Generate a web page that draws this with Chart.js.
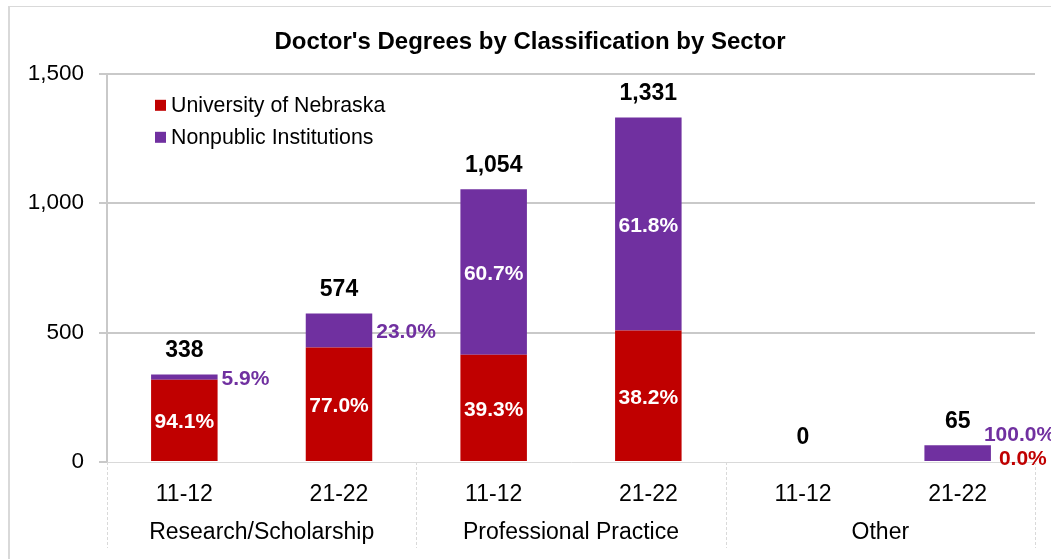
<!DOCTYPE html>
<html><head><meta charset="utf-8">
<script src="https://cdn.jsdelivr.net/npm/chart.js@4/dist/chart.umd.min.js"></script>
<style>html,body{margin:0;padding:0;background:#fff}#wrap{position:relative;width:1051px;height:559px}</style>
</head><body><div id="wrap"><canvas id="c" width="1051" height="559"></canvas></div>
<script>
// ---- data ----
const periods = ['11-12','21-22','11-12','21-22','11-12','21-22'];
const groups = ['Research/Scholarship','Professional Practice','Other'];
const groupSize = [2,2,2];
const unl = [318,442,414,508,0,0];
const nonpublic = [20,132,640,823,0,65];
const yTicks = [0,500,1000,1500];
const seriesNames = ['University of Nebraska','Nonpublic Institutions'];
const seriesColors = ['#C00000','#7030A0'];
const chartTitle = "Doctor's Degrees by Classification by Sector";

// ---- styling / plugins ----
const FONT = '"Liberation Sans", Arial, sans-serif';
const totals = unl.map((v,i)=>v+nonpublic[i]);
// small text nudges for overlapping outside labels [dx, dy] per dataset
const outsideNudge = {5: [[4,-5],[-11,-20]]};

const framePlugin = {
  id:'frame',
  beforeDraw(chart){
    const ctx=chart.ctx; ctx.save();
    ctx.fillStyle='#fff'; ctx.fillRect(0,0,chart.width,chart.height);
    ctx.fillStyle='#d9d9d9';
    ctx.fillRect(8,6,2,chart.height);
    ctx.fillRect(8,6,chart.width,1);
    ctx.restore();
  }
};

const groupPlugin = {
  id:'groups',
  afterDraw(chart){
    const ctx=chart.ctx, xs=chart.scales.x, area=chart.chartArea;
    ctx.save();
    ctx.strokeStyle='#d9d9d9'; ctx.lineWidth=1; ctx.setLineDash([3,2]);
    const step = xs.getPixelForValue(1)-xs.getPixelForValue(0);
    let idx=0;
    const bounds=[area.left];
    groups.forEach((g,gi)=>{
      const first=idx, last=idx+groupSize[gi]-1;
      const l = xs.getPixelForValue(first)-step/2, r = xs.getPixelForValue(last)+step/2;
      bounds.push(r);
      ctx.font='23px '+FONT; ctx.fillStyle='#000'; ctx.textAlign='center'; ctx.textBaseline='middle';
      ctx.fillText(g,(l+r)/2, area.bottom+71);
      idx+=groupSize[gi];
    });
    bounds.forEach(b=>{
      const xx=Math.round(b)+0.5;
      ctx.beginPath(); ctx.moveTo(xx,area.bottom); ctx.lineTo(xx,area.bottom+86); ctx.stroke();
    });
    ctx.setLineDash([]);
    // legend
    chart.data.datasets.forEach((ds,i)=>{
      const y = area.top + 32 + i*32;
      ctx.fillStyle=ds.backgroundColor;
      ctx.fillRect(area.left+48, y-6, 11, 11);
      ctx.fillStyle='#000'; ctx.font='21.3px '+FONT; ctx.textAlign='left'; ctx.textBaseline='middle';
      ctx.fillText(ds.label, area.left+64, y);
    });
    ctx.restore();
  }
};

const labelPlugin = {
  id:'labels',
  afterDatasetsDraw(chart){
    const ctx=chart.ctx, ys=chart.scales.y;
    const metas=[chart.getDatasetMeta(0), chart.getDatasetMeta(1)];
    const series=[unl, nonpublic];
    ctx.save();
    for(let i=0;i<periods.length;i++){
      const total=totals[i];
      const x=metas[0].data[i].x;
      ctx.font='bold 23px '+FONT; ctx.fillStyle='#000'; ctx.textAlign='center'; ctx.textBaseline='middle';
      ctx.fillText(total.toLocaleString('en-US'), x, ys.getPixelForValue(total)-24);
      if(!total) continue;
      metas.forEach((meta,d)=>{
        const el=meta.data[i];
        const p=el.getProps(['x','y','base','width'],true);
        const pct=(series[d][i]/total*100).toFixed(1)+'%';
        const h=Math.abs(p.base-p.y), cy=(p.base+p.y)/2;
        ctx.font='bold 21px '+FONT; ctx.textBaseline='middle';
        if(h>=45){
          ctx.fillStyle='#fff'; ctx.textAlign='center';
          ctx.fillText(pct,p.x,cy+2);
        } else {
          const n=(outsideNudge[i]&&outsideNudge[i][d])||[0,0];
          ctx.fillStyle=seriesColors[d]; ctx.textAlign='left';
          ctx.fillText(pct,p.x+p.width/2+4+n[0],cy+2+n[1]);
        }
      });
    }
    ctx.restore();
  }
};

new Chart(document.getElementById('c'),{
  type:'bar',
  data:{
    labels:periods,
    datasets:[
      {label:seriesNames[0], data:unl, backgroundColor:seriesColors[0], borderWidth:0},
      {label:seriesNames[1], data:nonpublic, backgroundColor:seriesColors[1], borderWidth:0}
    ]
  },
  options:{
    responsive:false, animation:false, devicePixelRatio:1,
    datasets:{bar:{barPercentage:0.43, categoryPercentage:1.0}},
    layout:{padding:{left:25,right:16,top:0,bottom:0}},
    plugins:{
      legend:{display:false}, tooltip:{enabled:false},
      title:{display:true, text:chartTitle, color:'#000',
        font:{family:FONT, size:24, weight:'bold'}, padding:{top:28,bottom:17}}
    },
    scales:{
      x:{stacked:true,
        grid:{display:false},
        border:{display:true,color:'#d9d9d9',dash:[3,2],width:1},
        ticks:{color:'#000',font:{family:FONT,size:23},padding:11,maxRotation:0,autoSkip:false},
        afterFit:s=>{s.height=97;}
      },
      y:{stacked:true,min:0,max:1500,
        afterBuildTicks:s=>{s.ticks=yTicks.map(v=>({value:v}));},
        grid:{color:c=>c.tick&&c.tick.value===0?'rgba(0,0,0,0)':'#c9c9c9', lineWidth:2, tickLength:8, tickColor:'#c9c9c9', tickWidth:2},
        border:{display:true,color:'#c9c9c9',width:2},
        ticks:{color:'#000',font:{family:FONT,size:22.5},padding:15,callback:v=>Number(v).toLocaleString('en-US')},
        afterFit:s=>{s.width=82;}
      }
    }
  },
  plugins:[framePlugin,labelPlugin,groupPlugin]
});
</script></body></html>
